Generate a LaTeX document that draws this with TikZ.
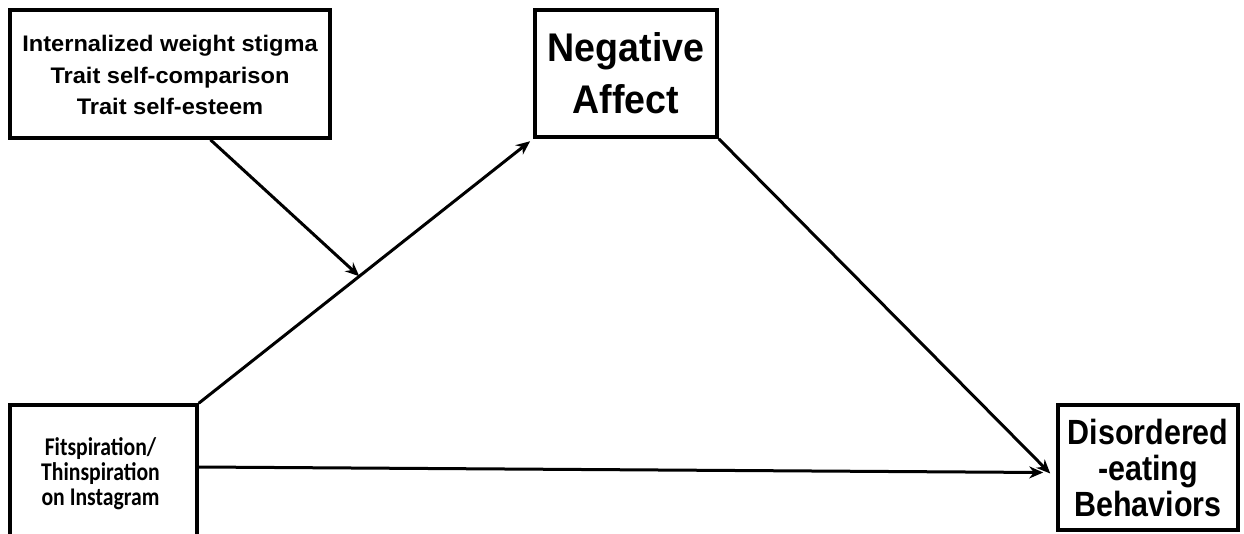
\documentclass[tikz,border=0pt]{standalone}
\usepackage{fontspec}
\setmainfont{Liberation Sans}
\newfontfamily\calib{Carlito}
\usetikzlibrary{arrows.meta,calc}
\newcommand{\hsq}[2]{\scalebox{#1}[1]{\begin{tabular}{@{}c@{}}#2\end{tabular}}}
\begin{document}
\begin{tikzpicture}[x=1pt,y=-1pt,
  box/.style={draw=black,line width=3.5pt,rectangle,inner sep=0pt},
  txt/.style={inner sep=0pt,align=center},
  conn/.style={line width=3pt,-{Stealth[length=14pt,width=12pt]}}]
\clip (0,0) rectangle (1244,533);
\fill[white] (0,0) rectangle (1244,533);
\node[box,minimum width=320pt,minimum height=128pt] (mod) at (170,74) {};
\node[txt,font=\bfseries\fontsize{22.5}{31.5}\selectfont] (modt) at ($(mod.center)+(0,3)$)
  {\hsq{1.05}{Internalized weight stigma\\Trait self-comparison\\Trait self-esteem}};
\node[box,minimum width=182pt,minimum height=127pt] (na) at (626,73.5) {};
\node[txt,font=\bfseries\fontsize{40}{52}\selectfont] (nat) at ($(na.center)+(0,3.5)$)
  {\hsq{0.94}{Negative\\Affect}};
\node[box,minimum width=187pt,minimum height=140pt] (fit) at (103.5,475) {};
\node[txt,font=\calib\bfseries\fontsize{25.5}{25}\selectfont] (fitt) at ($(fit.center)+(-3,0)$)
  {\hsq{0.85}{Fitspiration/\\Thinspiration\\on Instagram}};
\node[box,minimum width=180pt,minimum height=125pt] (dis) at (1148,467.5) {};
\node[txt,font=\bfseries\fontsize{35}{36}\selectfont] (dist) at ($(dis.center)+(0,6)$)
  {\hsq{0.87}{Disordered\\-eating\\Behaviors}};
\coordinate (m) at ($(fit.north east)!0.48!(na.south west)$);
\draw[conn,shorten >=4pt] (fit.north east) -- (na.south west);
\draw[conn] ($(mod.south west)!0.625!(mod.south east)$) -- (m);
\draw[conn] (na.south east) -- ($(dis.west)+(-6,6)$);
\draw[conn] ($(fit.east)+(0,-8)$) -- ($(dis.west)+(-13,5)$);
\end{tikzpicture}
\end{document}
